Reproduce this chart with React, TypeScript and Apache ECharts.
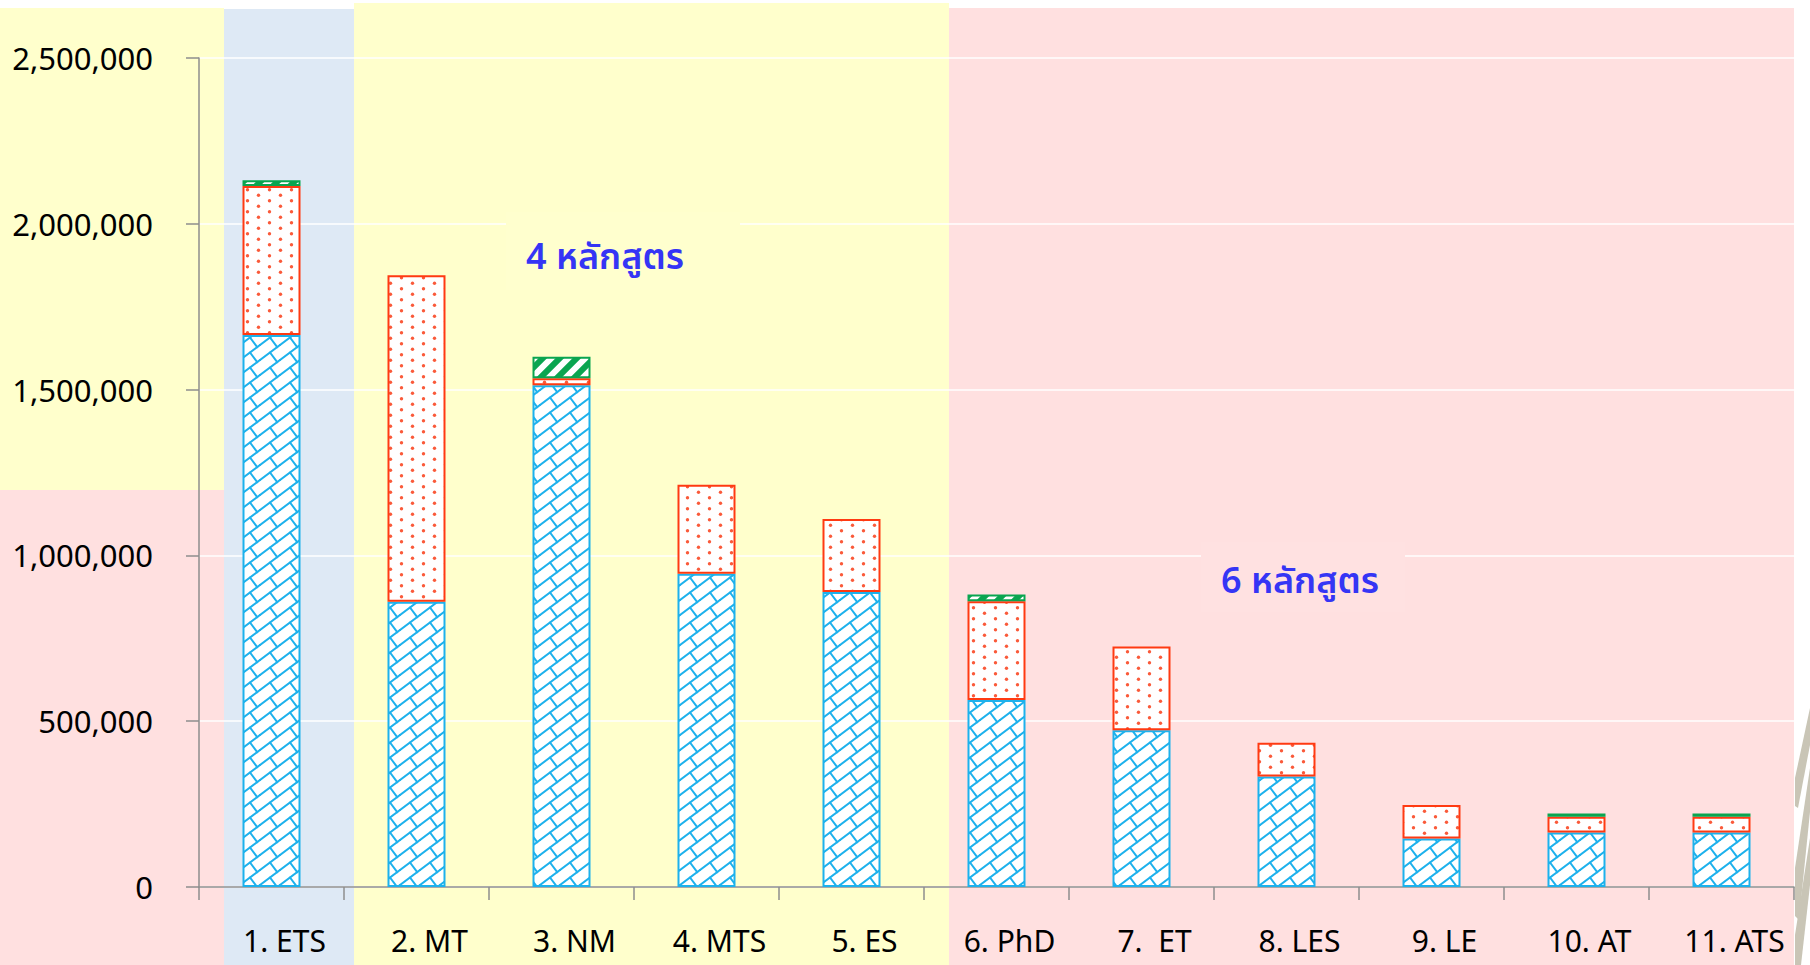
import React, { useEffect, useRef } from 'react';
import * as echarts from 'echarts';

// ---- data ----
const categories = ['1. ETS', '2. MT', '3. NM', '4. MTS', '5. ES', '6. PhD', '7.  ET', '8. LES', '9. LE', '10. AT', '11. ATS'];
const seriesBlue = [1665000, 860000, 1513000, 945000, 890000, 564000, 473000, 333000, 146000, 164000, 164000];
const seriesRed = [449000, 985000, 21000, 268000, 220000, 298000, 252000, 102000, 101000, 48000, 48000];
const seriesGreen = [17000, null, 65000, null, null, 20000, null, null, null, 10000, 10000];
const yMin = 0;
const yMax = 2500000;
const yInterval = 500000;
const noteLeft = '4 หลักสูตร';
const noteRight = '6 หลักสูตร';

const FONT = "'Noto Sans', 'Noto Sans Thai', Tahoma, 'DejaVu Sans', sans-serif";

function makeTile(w: number, h: number, draw: (ctx: CanvasRenderingContext2D) => void) {
  const c = document.createElement('canvas');
  c.width = w;
  c.height = h;
  const ctx = c.getContext('2d') as CanvasRenderingContext2D;
  ctx.fillStyle = '#ffffff';
  ctx.fillRect(0, 0, w, h);
  draw(ctx);
  return { image: c, repeat: 'repeat', imageWidth: w, imageHeight: h } as any;
}

function brickPattern() {
  const W = 20;
  const H = 15;
  const d = H / Math.sqrt(1 + (H / W) * (H / W));
  const nx = (H / W) / Math.sqrt(1 + (H / W) * (H / W));
  const ny = 1 / Math.sqrt(1 + (H / W) * (H / W));
  return makeTile(W, H, (ctx) => {
    ctx.strokeStyle = '#1DB1EC';
    ctx.lineWidth = 2;
    ctx.lineCap = 'round';
    const seg = (a: number, b: number, c: number, e: number) => {
      ctx.beginPath();
      ctx.moveTo(a, b);
      ctx.lineTo(c, e);
      ctx.stroke();
    };
    for (const ox of [-W, 0, W]) {
      for (const oy of [-H, 0, H]) {
        seg(ox, oy + H, ox + W, oy);
        seg(ox + W / 2, oy + H / 2, ox + W / 2 + nx * d, oy + H / 2 + ny * d);
      }
    }
  });
}

function dotPattern() {
  return makeTile(22, 11, (ctx) => {
    ctx.fillStyle = '#FA5A3A';
    const dot = (x: number, y: number) => {
      ctx.beginPath();
      ctx.arc(x, y, 1.7, 0, Math.PI * 2);
      ctx.fill();
    };
    dot(5.5, 2.75);
    dot(16.5, 8.25);
  });
}

function stripePattern() {
  const T = 17;
  return makeTile(T, T, (ctx) => {
    ctx.strokeStyle = '#0AA550';
    ctx.lineWidth = 6;
    const seg = (a: number, b: number, c: number, e: number) => {
      ctx.beginPath();
      ctx.moveTo(a, b);
      ctx.lineTo(c, e);
      ctx.stroke();
    };
    seg(-4, T + 4, T + 4, -4);
    seg(-4, 4, 4, -4);
    seg(T - 4, T + 4, T + 4, T - 4);
  });
}

export default function App() {
  const ref = useRef<HTMLDivElement>(null);

  useEffect(() => {
    if (!ref.current) return;
    const chart = echarts.init(ref.current, null, { renderer: 'svg' });

    const axisGray = '#8E8E8E';
    const streak = '#C9C5B6';
    const option: any = {
      animation: false,
      backgroundColor: '#ffffff',
      grid: { left: 199, right: 16, top: 58, bottom: 78, containLabel: false },
      graphic: [
        { type: 'rect', z: -10, silent: true, shape: { x: 0, y: 8, width: 224, height: 482 }, style: { fill: '#FFFFCC' } },
        { type: 'rect', z: -10, silent: true, shape: { x: 0, y: 490, width: 224, height: 475 }, style: { fill: '#FFE0E0' } },
        { type: 'rect', z: -10, silent: true, shape: { x: 224, y: 9, width: 130, height: 956 }, style: { fill: '#DEE9F5' } },
        { type: 'rect', z: -10, silent: true, shape: { x: 354, y: 3, width: 595, height: 962 }, style: { fill: '#FFFFCC' } },
        { type: 'rect', z: -10, silent: true, shape: { x: 949, y: 8, width: 845, height: 957 }, style: { fill: '#FFE0E0' } },
        { type: 'polygon', z: -10, silent: true, shape: { points: [[1810, 708], [1810, 745], [1798, 808], [1795, 806], [1795, 778]] }, style: { fill: streak } },
        { type: 'polygon', z: -10, silent: true, shape: { points: [[1810, 768], [1810, 812], [1799, 920], [1795, 916], [1795, 868]] }, style: { fill: streak } },
        { type: 'polygon', z: -10, silent: true, shape: { points: [[1810, 838], [1810, 885], [1801, 965], [1795, 965], [1795, 935]] }, style: { fill: streak } },
        { type: 'rect', z: 1, silent: true, shape: { x: 506, y: 212, width: 234, height: 78 }, style: { fill: '#FFFFCE' } },
        { type: 'text', z: 2, silent: true, x: 605, y: 255, style: { text: noteLeft, fill: '#3535F5', font: `600 36px ${FONT}`, align: 'center', verticalAlign: 'middle' } },
        { type: 'rect', z: 1, silent: true, shape: { x: 1201, y: 542, width: 204, height: 70 }, style: { fill: '#FFE1E1' } },
        { type: 'text', z: 2, silent: true, x: 1300, y: 579, style: { text: noteRight, fill: '#3535F5', font: `600 36px ${FONT}`, align: 'center', verticalAlign: 'middle' } },
      ],
      xAxis: {
        type: 'category',
        data: categories,
        axisLine: { show: true, lineStyle: { color: axisGray, width: 1.5 } },
        axisTick: { show: true, length: 13, lineStyle: { color: axisGray, width: 1.5 } },
        axisLabel: { interval: 0, fontSize: 30, color: '#000', fontFamily: FONT, margin: 38, padding: [0, 0, 0, 26] },
        splitLine: { show: false },
      },
      yAxis: {
        type: 'value',
        min: yMin,
        max: yMax,
        interval: yInterval,
        axisLine: { show: true, lineStyle: { color: axisGray, width: 1.5 } },
        axisTick: { show: true, length: 13, lineStyle: { color: axisGray, width: 1.5 } },
        axisLabel: {
          fontSize: 31,
          color: '#000',
          fontFamily: FONT,
          margin: 46,
          padding: [0, 0, 16, 0],
          formatter: (v: number) => v.toLocaleString('en-US'),
        },
        splitLine: { show: true, lineStyle: { color: '#ffffff', width: 1.5 } },
      },
      series: [
        {
          type: 'bar', name: 'blue', stack: 'total', data: seriesBlue, barWidth: 58,
          itemStyle: { color: brickPattern(), borderColor: '#1DB1EC', borderWidth: 2 },
        },
        {
          type: 'bar', name: 'red', stack: 'total', data: seriesRed, barWidth: 58,
          itemStyle: { color: dotPattern(), borderColor: '#FF3A12', borderWidth: 2 },
        },
        {
          type: 'bar', name: 'green', stack: 'total', data: seriesGreen, barWidth: 58,
          itemStyle: { color: stripePattern(), borderColor: '#0AA550', borderWidth: 2 },
        },
      ],
    };

    chart.setOption(option);
    return () => chart.dispose();
  }, []);

  return <div ref={ref} style={{ position: 'fixed', left: 0, top: 0, width: 1810, height: 965 }} />;
}
